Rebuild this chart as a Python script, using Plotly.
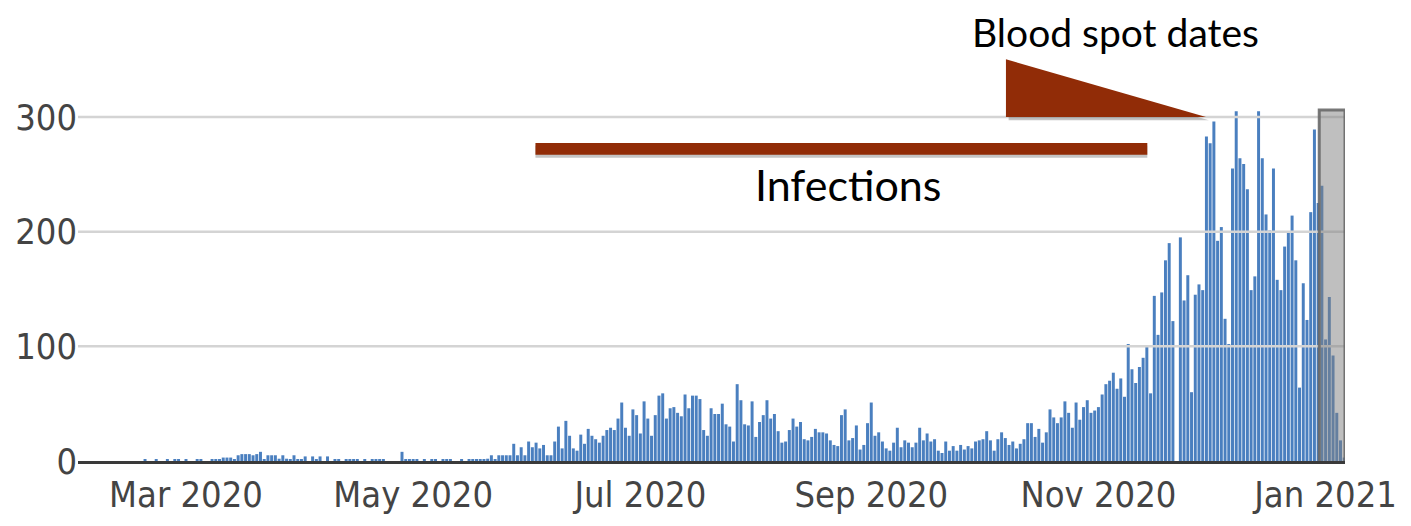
import pandas as pd
import plotly.graph_objects as go

# daily counts, one list per month (first list starts on 19 Feb)
feb_2020 = [1, 0, 0, 1, 0, 0, 1, 0, 1, 1, 0]
mar_2020 = [1, 0, 0, 1, 1, 0, 0, 1, 1, 1, 3, 3, 3, 1, 5, 6, 6, 6, 5, 6,
            8, 1, 5, 5, 5, 2, 5, 2, 1, 5, 1]
apr_2020 = [1, 4, 0, 4, 1, 4, 0, 4, 0, 1, 1, 0, 1, 1, 1, 1, 0, 1, 0, 1,
            1, 1, 1, 0, 0, 0, 0, 8, 1, 1]
may_2020 = [1, 1, 0, 1, 0, 1, 1, 0, 1, 1, 1, 0, 0, 1, 0, 1, 1, 1, 1, 1,
            2, 5, 1, 5, 5, 5, 5, 15, 5, 12, 5]
jun_2020 = [17, 12, 16, 11, 14, 5, 5, 17, 30, 11, 35, 22, 11, 9, 23, 15, 28, 22, 19, 16,
            22, 27, 29, 27, 37, 51, 29, 22, 45, 40]
jul_2020 = [24, 52, 37, 22, 40, 57, 59, 37, 46, 47, 42, 39, 58, 46, 57, 57, 54, 27, 22, 46,
            41, 41, 50, 32, 30, 17, 67, 53, 32, 31, 52]
aug_2020 = [21, 34, 40, 53, 37, 41, 26, 16, 17, 27, 37, 30, 34, 19, 18, 21, 28, 25, 25, 24,
            18, 14, 13, 40, 45, 18, 20, 31, 10, 14, 33]
sep_2020 = [51, 22, 25, 17, 11, 9, 16, 29, 12, 18, 16, 12, 16, 29, 18, 24, 17, 19, 9, 7,
            17, 9, 13, 9, 14, 10, 13, 11, 17, 18]
oct_2020 = [19, 26, 18, 9, 19, 25, 20, 14, 17, 11, 15, 19, 33, 33, 21, 28, 16, 25, 45, 38,
            33, 38, 52, 42, 29, 51, 36, 47, 53, 42, 44]
nov_2020 = [47, 58, 67, 70, 77, 63, 72, 56, 102, 80, 68, 82, 90, 101, 59, 144, 110, 147, 175, 190,
            122, 0, 195, 140, 162, 60, 145, 154, 149, 283]
dec_2020 = [277, 296, 192, 204, 124, 102, 255, 305, 264, 259, 237, 149, 161, 305, 264, 215, 201, 255, 158, 149,
            187, 199, 214, 175, 64, 155, 123, 217, 289, 225, 240]
jan_2021 = [106, 143, 92, 42, 18, 3]

cases = (feb_2020 + mar_2020 + apr_2020 + may_2020 + jun_2020 + jul_2020
         + aug_2020 + sep_2020 + oct_2020 + nov_2020 + dec_2020 + jan_2021)
days = pd.date_range("2020-02-19", periods=len(cases), freq="D")

y_ticks = [0, 100, 200, 300]
x_range = ["2020-02-01", "2021-01-06 05:00"]

# periods marked on the chart
infections = ["2020-06-02 20:00", "2020-11-14 03:00"]
recent = ["2020-12-30 07:00", x_range[1]]

BAR_BLUE = "#4a7fbf"
BROWN = "#912c07"
TICK_FONT = dict(family="DejaVu Sans Condensed", size=36, color="#444444")

fig = go.Figure(go.Bar(x=days, y=cases, marker=dict(color=BAR_BLUE, line=dict(width=0))))

# the page body adds 8px on the top and left, margins take that into account
fig.update_layout(
    width=1411,
    height=526,
    margin=dict(l=70, r=74, t=92, b=73),
    paper_bgcolor="white",
    plot_bgcolor="white",
    bargap=0.2,
    showlegend=False,
    xaxis=dict(
        type="date",
        range=x_range,
        dtick="M2",
        tickformat="%b %Y",
        showgrid=False,
        showline=True,
        linecolor="#3a3a3a",
        linewidth=3,
        ticks="",
        tickfont=TICK_FONT,
        automargin=False,
    ),
    yaxis=dict(
        range=[0, 314.8],
        tickvals=y_ticks,
        showgrid=False,
        zeroline=False,
        ticks="",
        tickfont=TICK_FONT,
        automargin=False,
    ),
)

# gridlines sit on top of the bars in the original
for t in y_ticks[1:]:
    fig.add_shape(type="line", xref="paper", x0=0, x1=1, yref="y", y0=t, y1=t,
                  line=dict(color="#d4d4d4", width=2.5), layer="above")

# grey box over the most recent days
fig.add_shape(type="rect", xref="x", x0=recent[0], x1=recent[1], yref="y", y0=-2, y1=306,
              fillcolor="rgba(128,128,128,0.5)", line=dict(color="rgba(105,105,105,0.9)", width=3),
              layer="above")

# infections bar (with a small drop shadow)
fig.add_shape(type="rect", xref="x", x0=infections[0], x1=infections[1], yref="y", y0=264.5, y1=275,
              fillcolor="rgba(60,60,60,0.3)", line=dict(width=0), layer="above")
fig.add_shape(type="rect", xref="x", x0=infections[0], x1=infections[1], yref="y", y0=267, y1=277.3,
              fillcolor=BROWN, line=dict(width=0), layer="above")

# blood spot dates wedge, above the plot area so in paper coordinates
fig.add_shape(type="path", xref="paper", yref="paper",
              path="M 0.7345,1.105 L 0.7345,0.944 L 0.8925,0.944 Z",
              fillcolor="rgba(60,60,60,0.3)", line=dict(width=0), layer="above")
fig.add_shape(type="path", xref="paper", yref="paper",
              path="M 0.7324,1.1127 L 0.7324,0.9529 L 0.8903,0.9529 Z",
              fillcolor=BROWN, line=dict(width=0), layer="above")

fig.add_annotation(text="Infections", xref="paper", yref="paper", x=0.6077, y=0.7673,
                   xanchor="center", yanchor="middle",
                   showarrow=False, font=dict(family="Lato", size=43, color="black"))
fig.add_annotation(text="Blood spot dates", xref="paper", yref="paper", x=0.8185, y=1.188,
                   xanchor="center", yanchor="middle", borderpad=0,
                   showarrow=False, font=dict(family="Lato", size=39, color="black"))

fig.write_html("out.html")
